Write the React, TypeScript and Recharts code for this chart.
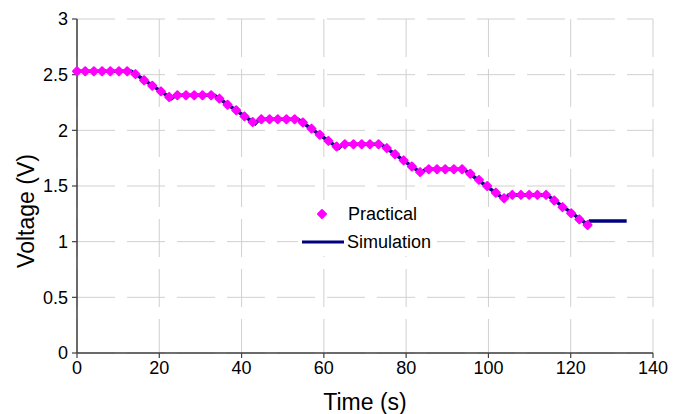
import React from 'react';
import { ComposedChart, Line, Scatter, XAxis, YAxis, CartesianGrid, Legend, Label } from 'recharts';

const practicalTime = [
  0, 2.0, 4.1, 6.1, 8.1, 10.2, 12.2, 14.2, 16.3, 18.3,
  20.4, 22.4, 24.4, 26.5, 28.5, 30.5, 32.6, 34.6, 36.6, 38.7,
  40.7, 42.7, 44.8, 46.8, 48.8, 50.9, 52.9, 54.9, 57.0, 59.0,
  61.1, 63.1, 65.1, 67.2, 69.2, 71.2, 73.3, 75.3, 77.3, 79.4,
  81.4, 83.4, 85.5, 87.5, 89.5, 91.6, 93.6, 95.6, 97.7, 99.7,
  101.8, 103.8, 105.8, 107.9, 109.9, 111.9, 114.0, 116.0, 118.0, 120.1,
  122.1, 124.1,
];
const practicalVoltage = [
  2.53, 2.53, 2.53, 2.53, 2.53, 2.53, 2.53, 2.505, 2.45, 2.40,
  2.35, 2.30, 2.315, 2.315, 2.315, 2.315, 2.315, 2.285, 2.23, 2.18,
  2.125, 2.075, 2.10, 2.10, 2.10, 2.10, 2.10, 2.07, 2.015, 1.96,
  1.905, 1.855, 1.875, 1.875, 1.875, 1.875, 1.875, 1.84, 1.785, 1.73,
  1.675, 1.625, 1.65, 1.65, 1.65, 1.65, 1.65, 1.61, 1.555, 1.50,
  1.44, 1.39, 1.42, 1.42, 1.42, 1.42, 1.42, 1.37, 1.31, 1.255,
  1.20, 1.15,
];
const simulationTime = [
  0, 13.2, 23.0, 24.0, 33.4, 43.3, 44.3, 53.7, 63.6, 64.6,
  73.9, 83.7, 84.7, 94.0, 103.9, 104.9, 114.2, 124.2, 124.7, 133.6,
];
const simulationVoltage = [
  2.53, 2.53, 2.285, 2.315, 2.315, 2.06, 2.10, 2.10, 1.84, 1.875,
  1.875, 1.615, 1.65, 1.65, 1.38, 1.42, 1.42, 1.15, 1.185, 1.185,
];
const xTicks = [0, 20, 40, 60, 80, 100, 120, 140];
const yTicks = [0, 0.5, 1, 1.5, 2, 2.5, 3];

const practicalData = practicalTime.map((t, i) => ({ t, v: practicalVoltage[i] }));
const simulationData = simulationTime.map((t, i) => ({ t, v: simulationVoltage[i] }));

const FONT = '"Liberation Sans", Arial, sans-serif';
const PINK = '#FF00FF';
const NAVY = '#000080';
const AXIS = '#404040';
const TICK_FONT = 18;

const Diamond = (props: any) => {
  const { cx, cy } = props;
  if (cx == null || cy == null) return null;
  const r = 4.0;
  return (
    <polygon
      points={`${cx},${cy - r} ${cx + r},${cy} ${cx},${cy + r} ${cx - r},${cy}`}
      fill={PINK}
      stroke={PINK}
      strokeWidth={2}
      strokeLinejoin="round"
    />
  );
};

const XTick = (props: any) => {
  const { x, y, payload } = props;
  return (
    <text x={x} y={y} dy="0.72em" textAnchor="middle" fontSize={TICK_FONT} fontFamily={FONT} fill="#000">
      {payload.value}
    </text>
  );
};

const YTick = (props: any) => {
  const { x, y, payload } = props;
  return (
    <text x={x} y={y} dy="0.36em" textAnchor="end" fontSize={TICK_FONT} fontFamily={FONT} fill="#000">
      {payload.value}
    </text>
  );
};

const LegendContent = () => (
  <svg width={139} height={56} style={{ display: 'block' }}>
    <rect x={0} y={0} width={139} height={56} fill="#ffffff" />
    <Diamond cx={24} cy={14} />
    <text x={50} y={14} dominantBaseline="central" fontSize={18} fontFamily={FONT} fill="#000">Practical</text>
    <line x1={4} y1={42} x2={46} y2={42} stroke={NAVY} strokeWidth={3} />
    <text x={49} y={42} dominantBaseline="central" fontSize={18} fontFamily={FONT} fill="#000">Simulation</text>
  </svg>
);

export default function App() {
  return (
    <div style={{ position: 'absolute', left: 0, top: 0, width: 684, height: 414, background: '#fff' }}>
      <ComposedChart
        width={684}
        height={414}
        margin={{ top: 19, right: 31, bottom: 0, left: 0 }}
      >
        <CartesianGrid stroke="#d0d0d0" strokeDasharray="38 12" strokeWidth={1} />
        <XAxis
          dataKey="t"
          type="number"
          domain={[0, 140]}
          ticks={xTicks}
          height={61}
          tick={<XTick />}
          tickSize={5}
          tickMargin={3}
          axisLine={{ stroke: AXIS, strokeWidth: 1.5 }}
          tickLine={{ stroke: AXIS, strokeWidth: 1.2 }}
        >
          <Label
            content={(p: any) => {
              const vb = p.viewBox;
              return (
                <text x={vb.x + vb.width / 2} y={vb.y + 49} textAnchor="middle" dominantBaseline="central" fontSize={23} fontFamily={FONT} fill="#000">
                  Time (s)
                </text>
              );
            }}
          />
        </XAxis>
        <YAxis
          dataKey="v"
          type="number"
          domain={[0, 3]}
          ticks={yTicks}
          width={77}
          tick={<YTick />}
          tickSize={5}
          tickMargin={4}
          axisLine={{ stroke: AXIS, strokeWidth: 1.5 }}
          tickLine={{ stroke: AXIS, strokeWidth: 1.2 }}
        >
          <Label
            content={(p: any) => {
              const vb = p.viewBox;
              const cx = 26;
              const cy = vb.y + vb.height / 2 + 25;
              return (
                <text x={cx} y={cy} transform={`rotate(-90, ${cx}, ${cy})`} textAnchor="middle" dominantBaseline="central" fontSize={23} fontFamily={FONT} fill="#000">
                  Voltage (V)
                </text>
              );
            }}
          />
        </YAxis>
        <Line
          data={simulationData}
          dataKey="v"
          name="Simulation"
          type="linear"
          stroke={NAVY}
          strokeWidth={3.5}
          dot={false}
          activeDot={false}
          isAnimationActive={false}
        />
        <Scatter
          data={practicalData}
          dataKey="v"
          name="Practical"
          fill={PINK}
          shape={Diamond}
          isAnimationActive={false}
        />
        <Legend
          layout="vertical"
          align="center"
          verticalAlign="middle"
          content={LegendContent}
          wrapperStyle={{ position: 'absolute', left: 298, top: 200, width: 139, height: 56 }}
        />
      </ComposedChart>
    </div>
  );
}
